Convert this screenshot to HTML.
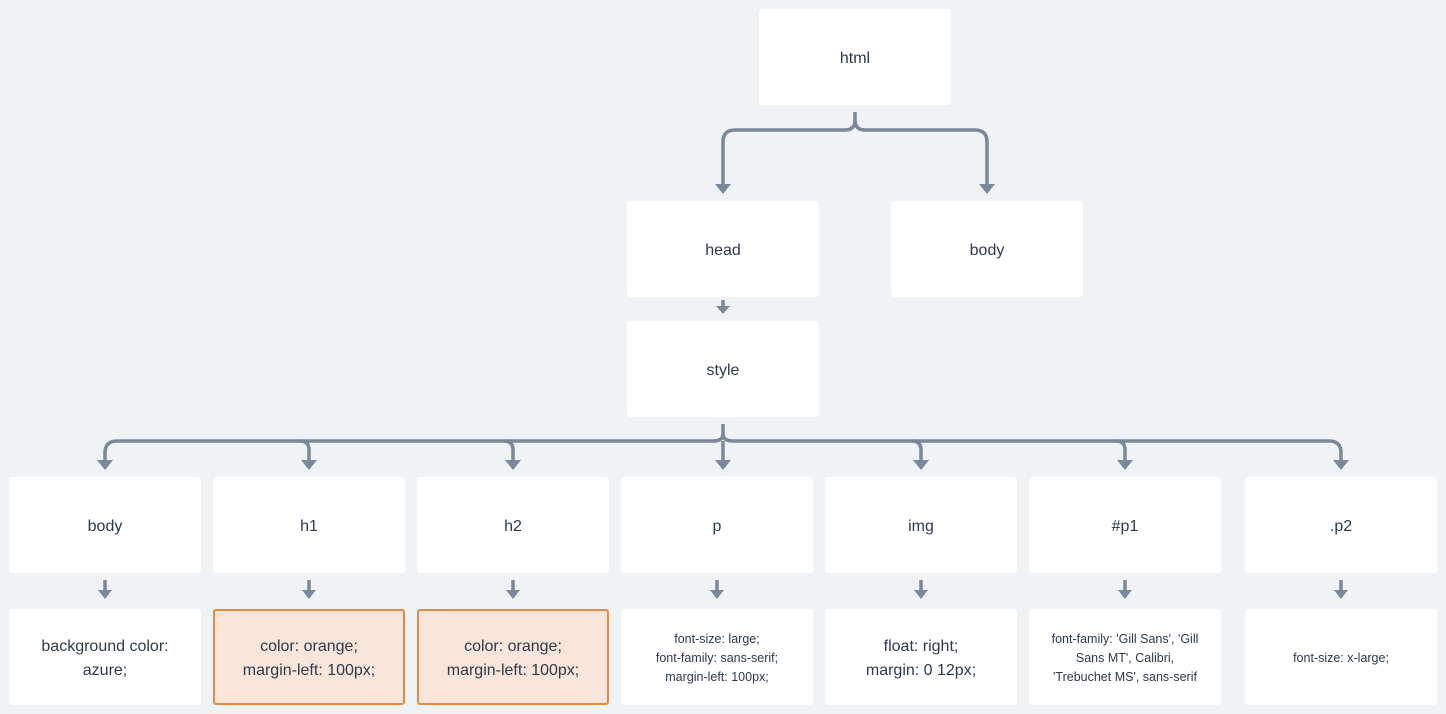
<!DOCTYPE html>
<html><head><style>
body{margin:0;width:1446px;height:714px;background:#eff3f6;position:relative;overflow:hidden;font-family:"Liberation Sans",sans-serif;color:#2d3a4a}
.b{position:absolute;width:192px;height:96px;background:#fff;border-radius:3px;display:flex;align-items:center;justify-content:center;text-align:center;font-size:16px;line-height:24px;box-sizing:border-box;padding:3px 8px 0}
.o{background:#f9e5da;border:2px solid #e8893e}
.s{font-size:12.5px;line-height:19px}
svg{position:absolute;left:0;top:0}
</style></head><body>
<svg width="1446" height="714" fill="none" stroke="#7a8899" stroke-width="3.5">
<path d="M855 112 V120 Q855 130 845 130 H735 Q723 130 723 142 V186"/>
<path d="M855 120 Q855 130 865 130 H975 Q987 130 987 142 V186"/>
<path d="M723 300 V308"/>
<path d="M723 424 V434 Q723 441 713 441 H117 Q105 441 105 453 V461"/>
<path d="M723 434 Q723 441 733 441 H1329 Q1341 441 1341 453 V461"/>
<path d="M723 441 V461"/>
<path d="M300 441 Q309 441 309 450 V461 M504 441 Q513 441 513 450 V461 M912 441 Q921 441 921 450 V461 M1116 441 Q1125 441 1125 450 V461"/>
<path d="M105 580 V592 M309 580 V592 M513 580 V592 M717 580 V592 M921 580 V592 M1125 580 V592 M1341 580 V592"/>
<g fill="#7a8899" stroke="none">
<path d="M715 184h16l-8 10z M979 184h16l-8 10z M716 306h14l-7 8z"/>
<path d="M97 460h16l-8 10z M301 460h16l-8 10z M505 460h16l-8 10z M715 460h16l-8 10z M913 460h16l-8 10z M1117 460h16l-8 10z M1333 460h16l-8 10z"/>
<path d="M98 590h14l-7 9z M302 590h14l-7 9z M506 590h14l-7 9z M710 590h14l-7 9z M914 590h14l-7 9z M1118 590h14l-7 9z M1334 590h14l-7 9z"/>
</g>
</svg>
<div class="b" style="left:759px;top:9px">html</div>
<div class="b" style="left:627px;top:201px">head</div>
<div class="b" style="left:891px;top:201px">body</div>
<div class="b" style="left:627px;top:321px">style</div>
<div class="b" style="left:9px;top:477px">body</div>
<div class="b" style="left:213px;top:477px">h1</div>
<div class="b" style="left:417px;top:477px">h2</div>
<div class="b" style="left:621px;top:477px">p</div>
<div class="b" style="left:825px;top:477px">img</div>
<div class="b" style="left:1029px;top:477px">#p1</div>
<div class="b" style="left:1245px;top:477px">.p2</div>
<div class="b" style="left:9px;top:609px">background color:<br>azure;</div>
<div class="b o" style="left:213px;top:609px">color: orange;<br>margin-left: 100px;</div>
<div class="b o" style="left:417px;top:609px">color: orange;<br>margin-left: 100px;</div>
<div class="b s" style="left:621px;top:609px">font-size: large;<br>font-family: sans-serif;<br>margin-left: 100px;</div>
<div class="b" style="left:825px;top:609px">float: right;<br>margin: 0 12px;</div>
<div class="b s" style="left:1029px;top:609px">font-family: 'Gill Sans', 'Gill<br>Sans MT', Calibri,<br>'Trebuchet MS', sans-serif</div>
<div class="b s" style="left:1245px;top:609px">font-size: x-large;</div>
</body></html>
